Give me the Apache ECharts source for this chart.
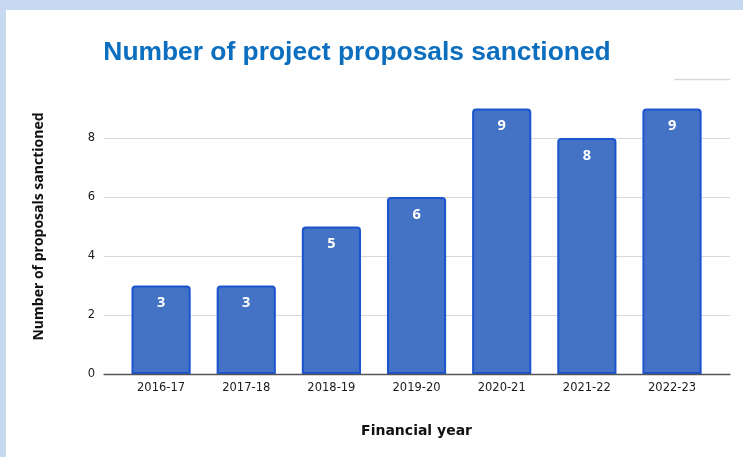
<!DOCTYPE html>
<html>
<head>
<meta charset="utf-8">
<script src="https://cdn.jsdelivr.net/npm/echarts@6/dist/echarts.min.js"></script>
<style>
html,body{margin:0;padding:0;background:#c6d9f1;}
#wrap{position:relative;width:743px;height:457px;overflow:hidden;}
#panel{position:absolute;left:6px;top:10px;right:0;bottom:0;background:#fff;}
#chart{position:absolute;left:0;top:0;width:743px;height:457px;}
</style>
</head>
<body>
<div id="wrap"><div id="panel"></div><div id="chart"></div></div>
<script>
const categories = ['2016-17','2017-18','2018-19','2019-20','2020-21','2021-22','2022-23'];
const sanctioned = [3, 3, 5, 6, 9, 8, 9];
const yTicks = { min: 0, max: 10, interval: 2 };
const titleText = 'Number of project proposals sanctioned';
const xTitle = 'Financial year';
const yTitle = 'Number of proposals sanctioned';

const chart = echarts.init(document.getElementById('chart'), null, {renderer:'canvas'});
chart.setOption({
  backgroundColor: 'transparent',
  animation: false,
  graphic: [
    { type:'text', x: 357, y: 53, z: 10,
      style: { text: titleText, fill:'#0b6ebf', font:'bold 26.4px "Liberation Sans", Arial, sans-serif',
               textAlign:'center', textVerticalAlign:'middle', verticalAlign:'middle' } },
    { type:'line', z: 1, shape:{x1:674, y1:79.5, x2:730, y2:79.5},
      style:{stroke:'#d9d9d9', lineWidth:1.5} }
  ],
  grid: [
    { left: 118.5, right: 28.4, top: 79, bottom: 83 },
    { left: 104, right: 13, top: 79, bottom: 83 }
  ],
  xAxis: [
    { gridIndex: 0, type:'category', data: categories,
      axisLine:{show:false}, axisTick:{show:false},
      axisLabel:{ color:'#1a1a1a', fontFamily:'"DejaVu Sans", sans-serif', fontSize:11.5, margin:8 },
      name: xTitle, nameLocation:'middle', nameGap: 50,
      nameTextStyle:{ color:'#111', fontFamily:'"DejaVu Sans", sans-serif', fontWeight:'bold', fontSize:14 } },
    { gridIndex: 1, type:'category', data:[''], z: 5,
      axisLine:{show:true, lineStyle:{color:'#555', width:1.3}},
      axisTick:{show:false}, axisLabel:{show:false} }
  ],
  yAxis: [
    { gridIndex: 0, type:'value', min:yTicks.min, max:yTicks.max, interval:yTicks.interval,
      show:false, splitLine:{show:false} },
    { gridIndex: 1, type:'value', min:yTicks.min, max:yTicks.max, interval:yTicks.interval,
      axisLine:{show:false}, axisTick:{show:false},
      axisLabel:{ color:'#1a1a1a', fontFamily:'"DejaVu Sans", sans-serif', fontSize:11.5, margin:9, showMaxLabel:false },
      splitLine:{ show:true, showMaxLine:false, lineStyle:{color:'#d9d9d9', width:1} },
      name: yTitle, nameLocation:'middle', nameGap: 58, nameRotate: 90,
      nameTextStyle:{ color:'#111', fontFamily:'"Open Sans", sans-serif', fontWeight:'bold', fontSize:14 } }
  ],
  series: [{
    type:'bar', xAxisIndex:0, yAxisIndex:0, data: sanctioned,
    barCategoryGap:'30.5%', z: 2,
    itemStyle:{ color:'#4472c4', borderColor:'#1a55cf', borderWidth:2, borderRadius:[3,3,0,0] },
    label:{ show:true, position:'insideTop', distance:10, color:'#fff',
            fontFamily:'"Open Sans", sans-serif', fontWeight:'bold', fontSize:14.5 }
  }]
});
</script>
</body>
</html>
